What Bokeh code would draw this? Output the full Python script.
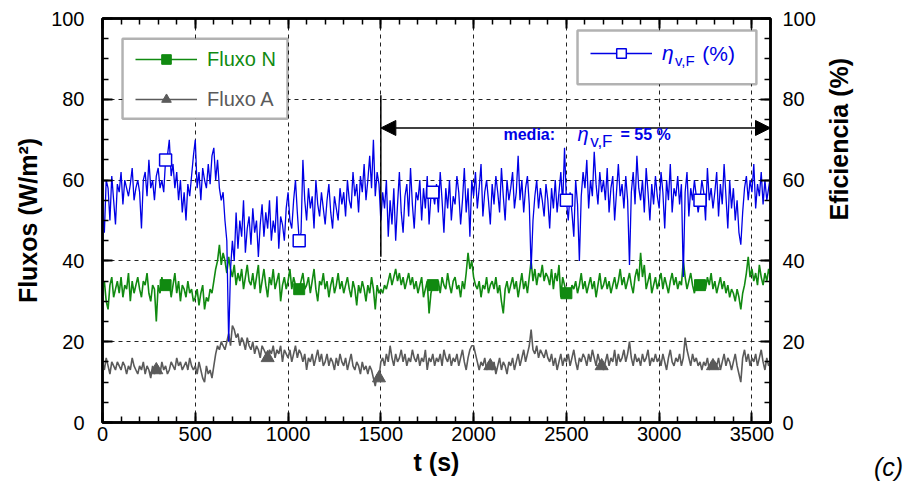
import math
from bokeh.plotting import figure
from bokeh.models import (Range1d, LinearAxis, SingleIntervalTicker, Legend, LegendItem,
                          BoxAnnotation, Label, Arrow, NormalHead, ColumnDataSource)
from bokeh.embed import file_html
from bokeh.resources import INLINE

# ---------------- data (10 s sampling, t = 0 ... 3600 s) ----------------
T_STEP = 10
T_MAX = 3600

eta_vF = [
    53, 47, 60, 58, 50, 61, 55, 49, 59, 57,
    62, 54, 60, 58, 56, 59, 63, 55, 58, 60,
    57, 48, 60, 62, 56, 65, 58, 60, 55, 61,
    63, 58, 60, 57, 65, 66, 70, 61, 64, 58,
    62, 55, 60, 52, 57, 50, 59, 56, 61, 66,
    70, 58, 62, 55, 63, 60, 58, 64, 59, 66,
    68, 60, 65, 58, 55, 57, 50, 45, 20, 38,
    45, 40, 52, 43, 50, 46, 55, 42, 48, 51,
    44, 53, 47, 50, 41, 49, 54, 46, 52, 48,
    55, 45, 50, 47, 56, 43, 51, 49, 45, 53,
    57, 50, 48, 55, 60, 52, 45, 47, 65, 55,
    50, 58, 53, 56, 48, 60, 54, 51, 57, 53,
    49, 55, 59, 52, 48, 56, 53, 50, 58, 54,
    57, 51, 60, 55, 53, 62, 56, 59, 52, 61,
    57, 64, 55, 60, 66, 58, 70, 56, 62, 59,
    50, 57, 53, 60, 46, 55, 49, 58, 45, 54,
    62, 52, 47, 56, 59, 51, 63, 54, 48, 57,
    55, 60, 50, 58, 53, 61, 49, 56, 57, 54,
    59, 52, 62, 55, 47, 58, 53, 60, 50, 56,
    54, 61, 57, 49, 55, 63, 52, 58, 46, 60,
    56, 62, 53, 58, 64, 51, 57, 60, 55, 49,
    59, 54, 61, 57, 52, 63, 56, 50, 60, 55,
    58, 62, 53, 57, 66, 55, 60, 52, 58, 61,
    54, 38, 50, 56, 60, 53, 58, 55, 51, 59,
    55, 48, 58, 53, 60, 52, 57, 62, 54, 68,
    55, 50, 57, 52, 46, 60, 54, 40, 56, 62,
    58, 65, 53, 60, 56, 67, 59, 54, 62, 57,
    60, 55, 63, 52, 58, 61, 50, 57, 64, 56,
    59, 53, 61, 55, 39, 57, 62, 54, 66, 58,
    55, 60, 52, 63, 57, 50, 59, 54, 61, 56,
    53, 62, 57, 48, 60, 55, 64, 52, 58, 56,
    61, 54, 59, 36, 57, 62, 51, 58, 55, 60,
    56, 52, 55, 60, 57, 50, 63, 55, 58, 53,
    57, 62, 51, 59, 54, 64, 56, 48, 60, 53,
    58, 50, 55, 47, 44, 52, 58, 61, 55, 60,
    57, 64, 53, 59, 56, 62, 54, 60, 55, 58,
    61,
]

fluxo_N = [
    33, 35, 30, 28, 34, 36, 31, 33, 35, 32,
    36, 31, 34, 33, 37, 30, 35, 32, 34, 36,
    33, 31, 35, 34, 37, 32, 30, 34, 33, 25,
    34, 32, 36, 33, 34, 33, 35, 31, 34, 37,
    32, 35, 30, 34, 33, 31, 35, 32, 33, 30,
    31, 33, 29, 32, 34, 28, 31, 30, 33, 32,
    35, 38, 40, 44, 39, 42, 40, 37, 41, 38,
    36, 39, 34, 37, 35, 38, 33, 36, 39, 35,
    34, 37, 33, 36, 39, 32, 35, 38, 34, 31,
    36, 34, 38, 33, 35, 37, 30, 34, 36, 33,
    35, 38, 33, 36, 34, 32, 33, 35, 37, 33,
    34, 36, 32, 35, 38, 33, 30, 35, 34, 37,
    33, 35, 31, 34, 36, 32, 34, 37, 33, 35,
    32, 34, 36, 33, 31, 35, 33, 29, 34, 32,
    35, 33, 30, 34, 32, 36, 33, 28, 34, 32,
    33, 32, 34, 33, 35, 37, 34, 36, 38, 35,
    37, 34, 36, 33, 35, 37, 34, 36, 33, 35,
    32, 34, 36, 31, 33, 35, 27, 32, 34, 34,
    33, 35, 32, 36, 34, 33, 37, 34, 32, 35,
    36, 33, 34, 31, 35, 33, 37, 42, 38, 40,
    36, 34, 33, 35, 31, 34, 33, 36, 32, 34,
    35, 33, 36, 32, 34, 30, 27, 33, 35, 32,
    34, 36, 33, 35, 31, 34, 37, 33, 35, 32,
    36, 40, 35, 38, 34, 37, 36, 39, 35, 37,
    36, 34, 38, 33, 37, 35, 39, 31, 36, 34,
    32, 33, 31, 34, 33, 35, 32, 34, 37, 33,
    35, 32, 34, 36, 33, 35, 31, 34, 37, 33,
    34, 36, 33, 35, 32, 34, 36, 33, 35, 38,
    34, 36, 33, 35, 37, 34, 32, 36, 38, 35,
    42, 36, 39, 33, 35, 37, 32, 34, 36, 33,
    35, 37, 33, 36, 34, 32, 35, 37, 34, 36,
    33, 35, 34, 40, 36, 33, 35, 37, 34, 32,
    35, 33, 34, 34, 35, 33, 36, 34, 37, 33,
    35, 32, 34, 36, 33, 35, 32, 34, 31, 33,
    32, 30, 33, 31, 28, 32, 34, 37, 41, 36,
    38, 35, 37, 34, 39, 36, 34, 37, 35, 38,
    36,
]

fluxo_A = [
    15, 13, 16, 14, 12, 15, 14, 13, 15, 14,
    13, 15, 14, 12, 14, 13, 16, 14, 13, 12,
    14, 13, 15, 12, 14, 13, 11, 14, 12, 13,
    14, 12, 15, 13, 14, 12, 13, 15, 14, 13,
    16, 14, 15, 13, 14, 15, 13, 16, 14, 13,
    14, 12, 15, 13, 11, 10, 14, 12, 13, 11,
    14, 17, 19, 18, 20, 19, 18, 20, 22, 19,
    24, 23, 21, 22, 19, 21, 20, 18, 21, 19,
    18, 20, 17, 19, 18, 16, 19, 18, 17, 16,
    18, 17, 19, 16, 18, 17, 19, 15, 18, 17,
    16, 18, 15, 17, 19, 16, 18, 17, 15, 17,
    13, 16, 15, 17, 14, 16, 18, 15, 17, 14,
    15, 17, 14, 16, 15, 13, 16, 14, 17, 15,
    14, 16, 13, 15, 17, 14, 13, 15, 14, 12,
    15, 13, 14, 12, 14, 13, 11, 9, 12, 11,
    15, 16, 14, 17, 15, 19, 16, 14, 17, 15,
    16, 18, 15, 17, 14, 16, 15, 18, 16, 15,
    17, 14, 16, 15, 18, 13, 16, 15, 17, 14,
    16, 15, 17, 14, 18, 16, 15, 17, 14, 16,
    15, 17, 14, 16, 18, 15, 13, 16, 18, 19,
    19, 17, 15, 13, 15, 14, 16, 13, 15, 14,
    13, 15, 12, 14, 16, 13, 15, 14, 12, 15,
    14, 16, 13, 15, 17, 14, 16, 18, 15, 17,
    19, 23, 18, 17, 19, 16, 18, 17, 16, 18,
    16, 15, 17, 14, 16, 13, 15, 17, 14, 16,
    15, 17, 14, 16, 18, 15, 13, 16, 15, 17,
    16, 14, 17, 15, 18, 16, 14, 17, 15, 14,
    13, 15, 17, 14, 16, 15, 18, 14, 17, 15,
    16, 18, 15, 17, 20, 16, 14, 17, 15, 16,
    14, 17, 15, 16, 18, 14, 16, 15, 17, 15,
    16, 14, 17, 15, 13, 16, 18, 15, 14, 16,
    15, 17, 14, 16, 21, 18, 16, 14, 17, 15,
    16, 14, 15, 13, 15, 14, 16, 13, 15, 14,
    15, 14, 16, 13, 15, 17, 14, 16, 15, 13,
    15, 17, 14, 12, 10, 16, 18, 15, 17, 14,
    16, 15, 17, 14, 16, 18, 15, 13, 16, 14,
    15,
]

t = list(range(0, T_MAX + 1, T_STEP))

# marker positions (every 72nd / 60th sample, as in the original)
idx_sq = list(range(34, len(t), 72))
idx_tri = list(range(29, len(t), 60))

# annotation values
MEAN_T0 = 1500
ARROW_Y = 72.9
VLINE_Y = (41, 81)

X_TICKS = 500
Y_TICKS = 20

# ---------------- styling ----------------
BLUE = "#0000e6"
GREEN = "#118a11"
GRAY = "#5a5a5a"
FONT = "Liberation Sans"

p = figure(width=909, height=491, x_range=Range1d(0, T_MAX), y_range=Range1d(0, 100),
           output_backend="svg", toolbar_location=None,
           min_border_left=102, min_border_right=139, min_border_top=18, min_border_bottom=69)
p.background_fill_color = "white"
p.border_fill_color = "white"
p.outline_line_color = "black"
p.outline_line_width = 2.5

xt = SingleIntervalTicker(interval=X_TICKS, num_minor_ticks=5)
yt = SingleIntervalTicker(interval=Y_TICKS, num_minor_ticks=4)

def style_axis(ax, labels=True):
    ax.axis_line_width = 2.5
    ax.axis_line_color = "black"
    ax.major_tick_in = 10
    ax.major_tick_out = 0
    ax.minor_tick_in = 6
    ax.minor_tick_out = 0
    ax.major_tick_line_width = 2
    ax.minor_tick_line_width = 1.5
    ax.major_tick_line_color = "black"
    ax.minor_tick_line_color = "black"
    ax.major_label_text_font = FONT
    if labels:
        ax.major_label_text_color = "black"
        ax.major_label_text_font_size = "20px"
    else:
        ax.major_label_text_color = None
        ax.major_label_text_font_size = "1px"
        ax.major_label_standoff = 0
    ax.axis_label_text_font = FONT
    ax.axis_label_text_font_style = "bold"
    ax.axis_label_text_font_size = "25px"
    ax.axis_label_text_color = "black"

p.xaxis.ticker = xt
p.yaxis.ticker = yt
style_axis(p.xaxis[0])
style_axis(p.yaxis[0])
p.xaxis.axis_label = "t (s)"
p.xaxis.major_label_standoff = 4
p.xaxis.axis_label_standoff = 4
p.yaxis.axis_label = "Fluxos (W/m²)"
p.yaxis.major_label_standoff = 18
p.yaxis.axis_label_standoff = 6

ax_top = LinearAxis(ticker=xt)
style_axis(ax_top, labels=False)
p.add_layout(ax_top, "above")

ax_right = LinearAxis(ticker=yt)
style_axis(ax_right)
ax_right.major_label_standoff = 12
ax_right.axis_label = "Eficiencia (%)"
ax_right.axis_label_standoff = 20
ax_right.axis_label_orientation = math.pi / 2
p.add_layout(ax_right, "right")

for g in (p.xgrid[0], p.ygrid[0]):
    g.grid_line_color = "#222222"
    g.grid_line_width = 1
    g.grid_line_dash = "4 4"
p.xgrid.ticker = xt
p.ygrid.ticker = yt

# ---------------- series ----------------
src = ColumnDataSource(dict(t=t, eta=eta_vF, n=fluxo_N, a=fluxo_A))
src_sq = ColumnDataSource(dict(t=[t[i] for i in idx_sq], eta=[eta_vF[i] for i in idx_sq],
                               n=[fluxo_N[i] for i in idx_sq]))
src_tri = ColumnDataSource(dict(t=[t[i] for i in idx_tri], a=[fluxo_A[i] for i in idx_tri]))

la = p.line("t", "a", source=src, line_color=GRAY, line_width=1.6)
ma = p.scatter("t", "a", source=src_tri, marker="triangle", size=13,
               fill_color=GRAY, line_color=GRAY)
ln = p.line("t", "n", source=src, line_color=GREEN, line_width=1.6)
mn = p.scatter("t", "n", source=src_sq, marker="square", size=11,
               fill_color=GREEN, line_color=GREEN)
le = p.line("t", "eta", source=src, line_color=BLUE, line_width=1.3)
me = p.scatter("t", "eta", source=src_sq, marker="square", size=12,
               fill_color="white", line_color=BLUE, line_width=1.5)

# ---------------- annotations ----------------
p.add_layout(Arrow(start=NormalHead(size=15, fill_color="black", line_color="black"),
                   end=NormalHead(size=15, fill_color="black", line_color="black"),
                   x_start=MEAN_T0, y_start=ARROW_Y, x_end=T_MAX, y_end=ARROW_Y,
                   line_color="black", line_width=1.5))
p.add_layout(Arrow(end=None, x_start=MEAN_T0, y_start=VLINE_Y[0], x_end=MEAN_T0,
                   y_end=VLINE_Y[1], line_color="black", line_width=1.5))

def mklabel(x, y, text, size, color="black", style="normal", align="left",
            baseline="alphabetic"):
    return Label(x=x, y=y, text=text, text_font=FONT, text_font_size=size,
                 text_color=color, text_font_style=style, text_align=align,
                 text_baseline=baseline)

p.add_layout(mklabel(2161, 71.3, "media:", "16px", BLUE, "bold"))
p.add_layout(mklabel(2560, 71.3, "η", "20px", BLUE, "italic"))
p.add_layout(mklabel(2628, 69.6, "v,F", "17px", BLUE))
p.add_layout(mklabel(2792, 71.3, "= 55 %", "16px", BLUE, "bold"))

# legend boxes
p.add_layout(BoxAnnotation(left=108, right=997, bottom=75.2, top=95.0,
                           fill_color="white", fill_alpha=1, line_color="black",
                           line_width=2.5))
p.add_layout(BoxAnnotation(left=2560, right=3524, bottom=83.7, top=97.0,
                           fill_color="white", fill_alpha=1, line_color="black",
                           line_width=2.5))

def mk_legend(items, loc, color, style="normal", size="20px"):
    lg = Legend(items=items, location=loc, orientation="vertical", padding=0, margin=0,
                spacing=0, border_line_alpha=0, background_fill_alpha=0,
                glyph_width=62, glyph_height=24, label_height=24, label_standoff=10,
                label_text_font=FONT, label_text_font_size=size, label_text_color=color,
                label_text_font_style=style)
    p.add_layout(lg)

mk_legend([LegendItem(label="Fluxo N", renderers=[ln, mn])], (33, 351), GREEN)
mk_legend([LegendItem(label="Fluxo A", renderers=[la, ma])], (33, 311), GRAY)
mk_legend([LegendItem(label="η", renderers=[le, me])], (488, 357), BLUE, "italic", "21px")
p.add_layout(mklabel(3085, 89.6, "v,F", "15px", BLUE))
p.add_layout(mklabel(3232, 91.3, "(%)", "21px", BLUE, baseline="middle"))

# panel tag, outside the frame (placed in the right side panel so it is not clipped)
p.add_layout(mklabel(4236, -10.9, "(c)", "25px", "black", "italic", "center", "middle"),
             "right")

open("out.html", "w").write(file_html(p, INLINE))
